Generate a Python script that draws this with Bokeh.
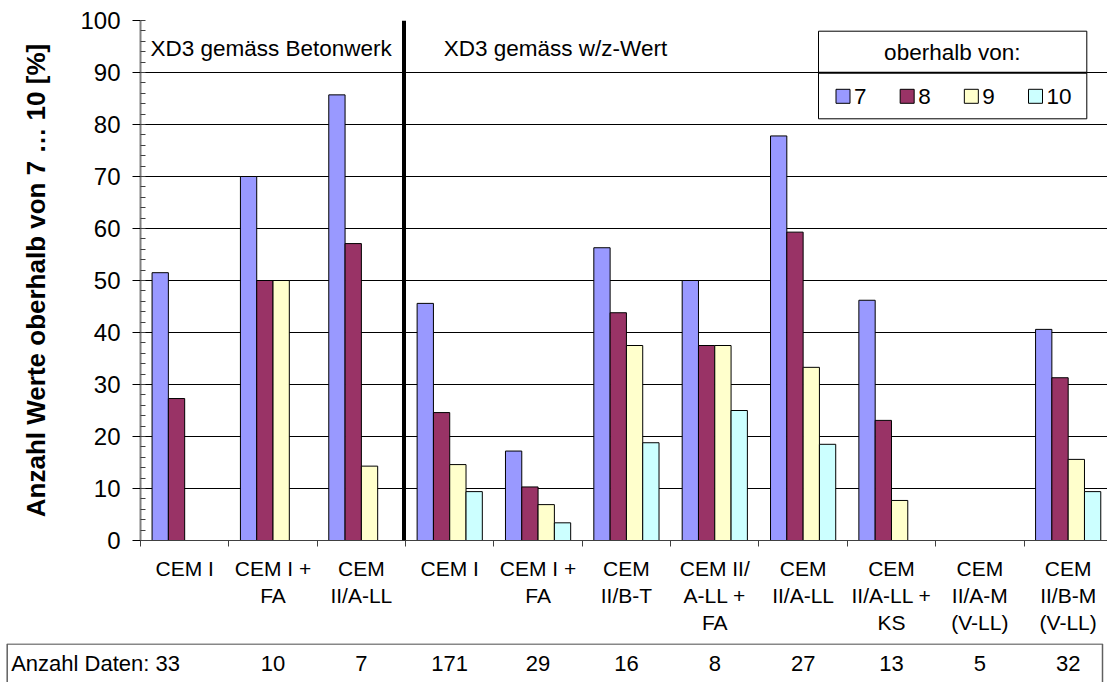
from bokeh.plotting import figure
from bokeh.models import (Range1d, FixedTicker, SingleIntervalTicker, ColumnDataSource,
                          LabelSet, Label, Span)
from bokeh.layouts import column, row
from bokeh.embed import file_html
from bokeh.resources import INLINE
from bokeh.core.properties import value

# ---------------- data ----------------
categories = ["CEM I", "CEM I +\nFA", "CEM\nII/A-LL", "CEM I", "CEM I +\nFA", "CEM\nII/B-T",
              "CEM II/\nA-LL +\nFA", "CEM\nII/A-LL", "CEM\nII/A-LL +\nKS",
              "CEM\nII/A-M\n(V-LL)", "CEM\nII/B-M\n(V-LL)"]
n_data = [33, 10, 7, 171, 29, 16, 8, 27, 13, 5, 32]
series_names = ["7", "8", "9", "10"]
above_7 = [51.5, 70.0, 85.7, 45.6, 17.2, 56.3, 50.0, 77.8, 46.2, 0, 40.6]
above_8 = [27.3, 50.0, 57.1, 24.6, 10.3, 43.8, 37.5, 59.3, 23.1, 0, 31.3]
above_9 = [0, 50.0, 14.3, 14.6, 6.9, 37.5, 37.5, 33.3, 7.7, 0, 15.6]
above_10 = [0, 0, 0, 9.4, 3.4, 18.8, 25.0, 18.5, 0, 0, 9.4]
series_values = [above_7, above_8, above_9, above_10]
colors = ["#9999FF", "#993366", "#FFFFCC", "#CCFFFF"]
section_labels = ["XD3 gemäss Betonwerk", "XD3 gemäss w/z-Wert"]
legend_title = "oberhalb von:"
y_title = "Anzahl Werte oberhalb von 7 … 10 [%]"
table_label = "Anzahl Daten: "
Y_MAX = 100

# ---------------- geometry (pixels) ----------------
FONT = "Liberation Sans"
W = 1107
H_MAIN = 643
H_TAB = 39
LEFT = 140
TOP = 20
BOTTOM = 103
CAT_PX = 88.35
Y_PX = (H_MAIN - TOP - BOTTOM) / Y_MAX
BAR_W = 0.1845


def px_x(sx):
    return (sx - LEFT) / CAT_PX


def px_y(sy):
    return Y_MAX - (sy - TOP) / Y_PX


p = figure(width=W, height=H_MAIN, x_range=Range1d(0, px_x(W)), y_range=Range1d(0, Y_MAX),
           toolbar_location=None, output_backend="svg",
           min_border_left=LEFT, min_border_top=TOP, min_border_bottom=BOTTOM, min_border_right=0)
p.outline_line_color = None
p.background_fill_color = "white"
p.border_fill_color = "white"

# bars
for k, vals in enumerate(series_values):
    xs = [i + 0.5 + (k - 1.5) * BAR_W for i, v in enumerate(vals) if v > 0]
    tops = [v for v in vals if v > 0]
    p.vbar(x=xs, top=tops, bottom=0, width=BAR_W, fill_color=colors[k],
           line_color="black", line_width=1)

# y axis
p.yaxis.ticker = SingleIntervalTicker(interval=10, num_minor_ticks=5)
p.yaxis.major_tick_out = 8
p.yaxis.major_tick_in = 0
p.yaxis.minor_tick_out = 0
p.yaxis.minor_tick_in = 5
p.yaxis.axis_line_color = "#808080"
p.yaxis.axis_line_width = 2
p.yaxis.major_tick_line_color = "black"
p.yaxis.minor_tick_line_color = "#404040"
p.yaxis.major_label_text_font = FONT
p.yaxis.major_label_text_font_size = "24px"
p.yaxis.major_label_text_color = "black"
p.yaxis.major_label_standoff = 12
p.yaxis.axis_label = y_title
p.yaxis.axis_label_text_font = FONT
p.yaxis.axis_label_text_font_style = "bold"
p.yaxis.axis_label_text_font_size = "26px"
p.yaxis.axis_label_text_color = "black"
p.yaxis.axis_label_standoff = 26

p.ygrid.grid_line_color = "black"
p.ygrid.grid_line_width = 1
p.xgrid.visible = False

# x axis: labels at category centres, ticks (minor) at category boundaries
centers = [i + 0.5 for i in range(len(categories))]
p.xaxis.ticker = FixedTicker(ticks=centers, minor_ticks=list(range(len(categories) + 1)))
p.xaxis.major_label_overrides = {c: lab for c, lab in zip(centers, categories)}
p.xaxis.major_tick_out = 0
p.xaxis.major_tick_in = 0
p.xaxis.minor_tick_out = 6
p.xaxis.minor_tick_in = 0
p.xaxis.axis_line_color = "#404040"
p.xaxis.minor_tick_line_color = "#404040"
p.xaxis.major_label_text_font = FONT
p.xaxis.major_label_text_font_size = "21px"
p.xaxis.major_label_text_color = "black"
p.xaxis.major_label_text_line_height = 1.19
p.xaxis.major_label_standoff = 10

# section separator and labels
p.add_layout(Span(location=px_x(403.5), dimension="height",
                  line_color="black", line_width=4))
p.add_layout(Label(x=px_x(150), y=px_y(47.5), text=section_labels[0],
                   text_font=FONT, text_font_size="22.5px", text_baseline="middle",
                   text_color="black"))
p.add_layout(Label(x=px_x(443.3), y=px_y(47.5), text=section_labels[1],
                   text_font=FONT, text_font_size="22.5px", text_baseline="middle",
                   text_color="black"))

# legend box (custom)
p.quad(left=px_x(818), right=px_x(1086.3), top=px_y(30.7), bottom=px_y(118.3),
       fill_color="white", line_color="black", line_width=1)
p.segment(x0=px_x(818), x1=px_x(1086.3), y0=px_y(72.3), y1=px_y(72.3),
          line_color="black", line_width=2)
p.add_layout(Label(x=px_x(951.8), y=px_y(51.5), text=legend_title,
                   text_font=FONT, text_font_size="22.5px", text_align="center",
                   text_baseline="middle", text_color="black"))
item_x = [px_x(842.5 + 64.17 * k) for k in range(len(series_names))]
item_y = [px_y(95.8)] * len(series_names)
p.rect(x=item_x, y=item_y, width=14, height=14, width_units="screen",
       height_units="screen", fill_color=colors, line_color="black", line_width=1)
p.add_layout(LabelSet(x="x", y="y", text="text",
                      source=ColumnDataSource(dict(x=[v + 11 / CAT_PX for v in item_x],
                                                   y=item_y, text=series_names)),
                      text_align="left", text_baseline="middle",
                      text_font=value(FONT), text_font_size=value("22.5px"),
                      text_color="black"))

# ---------------- data table below ----------------
t = figure(width=W, height=H_TAB, x_range=Range1d(px_x(0), px_x(W)),
           y_range=Range1d(-H_TAB, 0), toolbar_location=None, output_backend="svg",
           x_axis_location=None, y_axis_location=None, min_border=0)
t.grid.visible = False
t.outline_line_color = None
t.background_fill_color = "white"
t.line(x=[px_x(6.7), px_x(6.7), px_x(1102), px_x(1102)],
       y=[-H_TAB - 2, -0.5, -0.5, -H_TAB - 2], line_color="#606060", line_width=1.5)
t.text(x=[i + 0.5 for i in range(1, len(n_data))], y=[-20] * (len(n_data) - 1),
       text=[str(n) for n in n_data[1:]], text_align="center", text_baseline="middle",
       text_font=value(FONT), text_font_size="22px", text_color="black")
t.add_layout(Label(x=px_x(10.7), y=-20, text=table_label + str(n_data[0]),
                   text_font=FONT, text_font_size="22px", text_baseline="middle",
                   text_color="black"))

layout = column(p, row(t), spacing=0)
open("out.html", "w").write(file_html(layout, INLINE))
